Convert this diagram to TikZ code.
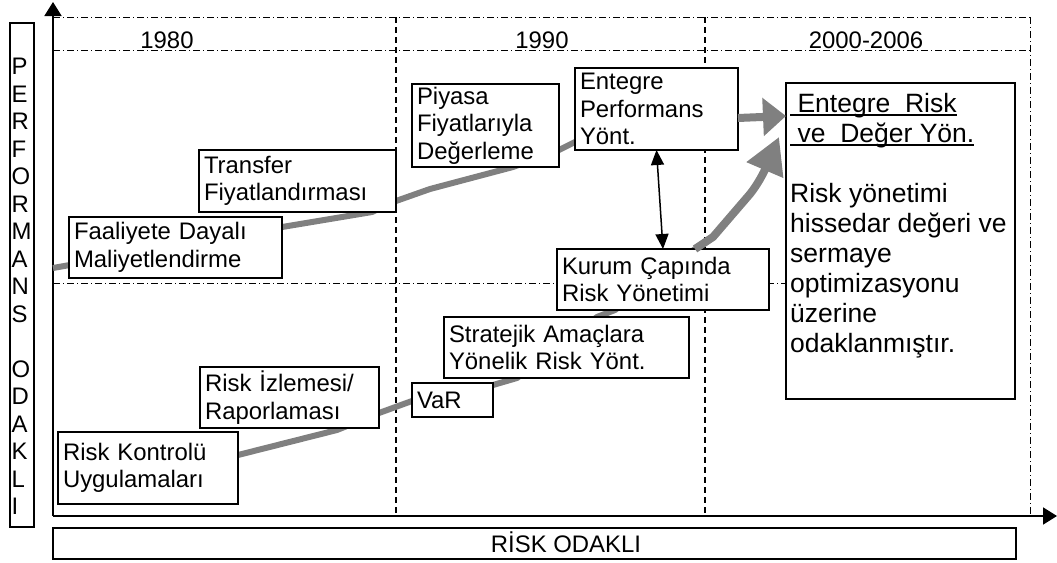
\documentclass[tikz,border=0pt]{standalone}
\usepackage{fontspec}
\setmainfont{Liberation Sans}
\usetikzlibrary{arrows.meta,calc}
\definecolor{lgray}{RGB}{128,128,128}
\newcommand\myul[1]{\setbox0\hbox{#1}\rlap{\rule[-4pt]{\wd0}{2pt}}\box0}
\begin{document}
\begin{tikzpicture}[x=1pt,y=-1pt,
  every node/.style={font=\fontsize{23.9}{27.5}\selectfont},
  boxn/.style={draw=black, line width=2pt, fill=white, anchor=north west, align=left,
               inner xsep=5pt, inner ysep=0pt, outer sep=0pt},
  frame/.style={draw=black, line width=2pt, anchor=north west, inner sep=0pt, outer sep=0pt},
  gline/.style={draw=lgray, line width=6pt, line join=round},
  garrow/.style={draw=lgray, line width=8pt, line join=round},
  dashv/.style={line width=1.2pt, dash pattern=on 6pt off 4pt},
  dashdot/.style={line width=1pt, dash pattern=on 7pt off 3pt on 1pt off 3pt},
  axis/.style={line width=1.8pt, -{Triangle[length=14pt,width=17pt]}}
]
\useasboundingbox (0,0) rectangle (1057,562);

% grid coordinates
\coordinate (o) at (53,516);
\coordinate (ytip) at (53,2);
\coordinate (xtip) at (1057,516);
\coordinate (t0) at (53,17);   \coordinate (t1) at (1030,17);
\coordinate (m0) at (53,50);   \coordinate (m1) at (1030,50);
\coordinate (h0) at (53,283);  \coordinate (h1) at (786,283);
\coordinate (v1a) at (396,17); \coordinate (v1b) at (396,516);
\coordinate (v2a) at (705,17); \coordinate (v2b) at (705,516);
\coordinate (v3a) at (1030,17); \coordinate (v3b) at (1030,516);

\draw[dashdot] (t0) -- (t1);
\draw[dashdot] (m0) -- (m1);
\draw[dashdot] (h0) -- (h1);
\draw[dashdot] (v3a) -- (v3b);
\draw[dashv] (v1a) -- (v1b);
\draw[dashv] (v2a) -- (v2b);

% axes
\draw[axis] (o) -- (ytip);
\draw[axis] (o) -- (xtip);

% year labels
\node[anchor=base] (y1980) at (167,48) {1980};
\node[anchor=base] (y1990) at (542,48) {1990};
\node[anchor=base] (y2000) at (866,48) {2000-2006};

% grey path (performance)
\coordinate (u0) at (53,268);
\coordinate (u1) at (282,227);
\coordinate (u2) at (372,212);
\coordinate (u3) at (396,201);
\coordinate (u4) at (430,189);
\coordinate (u5) at (513,167);
\coordinate (u6) at (559,150);
\coordinate (u7) at (575,142);
\coordinate (u8) at (640,125);
\draw[gline] (u0) -- (u1) -- (u2) -- (u3) -- (u4) -- (u5) -- (u6) -- (u7) -- (u8);

% grey path (risk)
\coordinate (l0) at (238,455);
\coordinate (l1) at (337,430);
\coordinate (l2) at (379,413);
\coordinate (l3) at (412,401);
\coordinate (l4) at (493,385);
\coordinate (l5) at (517,378);
\coordinate (l6) at (597,317);
\coordinate (l7) at (615,310);
\coordinate (l8) at (695,249);
\draw[gline] (l0) -- (l1) -- (l2) -- (l3) -- (l4) -- (l5) -- (l6) -- (l7) -- (l8);

% boxes
\node[boxn, minimum width=197pt, minimum height=62pt, text width=187pt] (transfer) at (199,150) {Transfer\\Fiyatlandırması};
\node[boxn, minimum width=213pt, minimum height=61pt, text width=203pt] (faal) at (69,217) {Faaliyete Dayalı\\Maliyetlendirme};
\node[boxn, minimum width=147pt, minimum height=83pt, text width=137pt] (piyasa) at (412,84) {Piyasa\\Fiyatlarıyla\\Değerleme};
\node[boxn, minimum width=163pt, minimum height=82pt, text width=153pt] (ep) at (575,68) {Entegre\\Performans\\Yönt.};
\node[boxn, minimum width=212pt, minimum height=61pt, text width=202pt] (kurum) at (557,249) {Kurum Çapında\\Risk Yönetimi};
\node[boxn, minimum width=245pt, minimum height=61pt, text width=235pt] (strat) at (444,317) {Stratejik Amaçlara\\Yönelik Risk Yönt.};
\node[boxn, minimum width=81pt, minimum height=34pt, text width=71pt] (var) at (412,383) {VaR};
\node[boxn, minimum width=179pt, minimum height=61pt, text width=169pt] (izle) at (200,367) {Risk İzlemesi/\\Raporlaması};
\node[boxn, minimum width=180pt, minimum height=72pt, text width=170pt] (kontrol) at (58,432) {Risk Kontrolü\\Uygulamaları};

% big box
\node[frame, fill=white, minimum width=229pt, minimum height=316pt] (big) at (786,83) {};
\node[anchor=north west, inner sep=0pt, align=left, font=\fontsize{26.5}{30}\selectfont] (bigtext) at (790,93)
  {\myul{\ Entegre\ \ Risk}\\
   \myul{\ ve\ \ Değer Yön.}\\[30pt]
   Risk yönetimi\\hissedar değeri ve\\sermaye\\optimizasyonu\\üzerine\\odaklanmıştır.};

% grey arrows into big box
\coordinate (ua) at (738,118);
\coordinate (ub) at (786,116);
\draw[garrow, -{Triangle[length=23pt,width=37pt]}] (ua) -- (ub);
\coordinate (la) at (713,237);
\coordinate (lb) at (750,194);
\coordinate (lc) at (779,137);
\draw[garrow, -{Triangle[length=36pt,width=38pt]}] (l8) -- (la) -- (lb) .. controls (758,184) and (764,172) .. (lc);

% black double arrow
\draw[line width=1.5pt, {Triangle[length=15pt,width=13pt]}-{Triangle[length=15pt,width=13pt]}] (ep.south) -- (kurum.north);

% left vertical label
\node[frame, minimum width=24pt, minimum height=504pt] (perfbox) at (10,23) {};
\node[anchor=north west, inner sep=0pt, align=left] (perftext) at (11.5,58)
  {P\\E\\R\\F\\O\\R\\M\\A\\N\\S\\[27.5pt]O\\D\\A\\K\\L\\I};

% bottom label
\node[frame, minimum width=963pt, minimum height=31pt] (riskbox) at (53,528) {};
\node[anchor=base] (risktext) at (566,552) {RİSK ODAKLI};
\end{tikzpicture}
\end{document}
